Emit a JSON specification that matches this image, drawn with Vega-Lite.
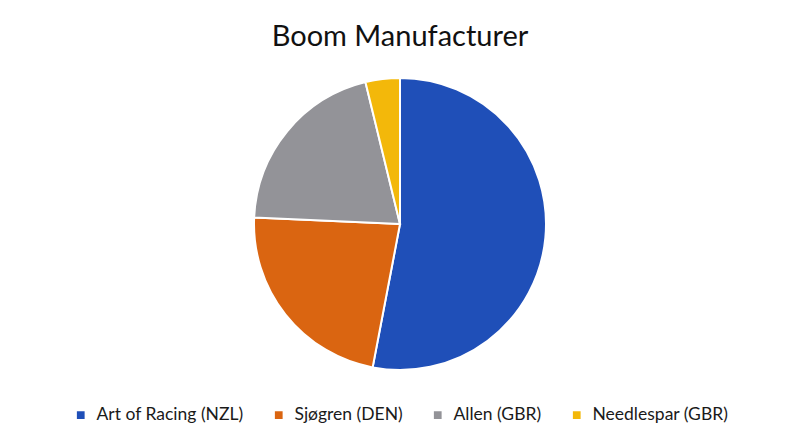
{
  "$schema": "https://vega.github.io/schema/vega-lite/v6.json",
  "autosize": {"type": "fit", "contains": "padding"},
  "width": 800,
  "height": 446,
  "padding": {"top": 23, "bottom": 22, "left": 5, "right": 5},
  "background": "white",
  "title": {"text": "Boom Manufacturer", "font": "Lato", "fontSize": 29, "fontWeight": "normal", "color": "#111111", "offset": 9},
  "data": {"values": [
    {"maker": "Art of Racing (NZL)", "share": 53.0, "rank": 1},
    {"maker": "Sjøgren (DEN)", "share": 22.7, "rank": 2},
    {"maker": "Allen (GBR)", "share": 20.5, "rank": 3},
    {"maker": "Needlespar (GBR)", "share": 3.8, "rank": 4}
  ]},
  "mark": {"type": "arc", "outerRadius": 146, "stroke": "white", "strokeWidth": 2},
  "encoding": {
    "theta": {"field": "share", "type": "quantitative", "stack": true},
    "order": {"field": "rank", "type": "quantitative"},
    "color": {
      "field": "maker", "type": "nominal",
      "scale": {"domain": ["Art of Racing (NZL)", "Sjøgren (DEN)", "Allen (GBR)", "Needlespar (GBR)"], "range": ["#1F4FB8", "#DA6511", "#939398", "#F3B80A"]},
      "legend": {"title": null, "orient": "bottom", "direction": "horizontal", "symbolType": "square", "symbolSize": 60, "symbolStrokeWidth": 0, "labelFont": "Lato", "labelFontSize": 17.5, "labelColor": "#1a1a1a", "labelOffset": 7, "columnPadding": 26, "offset": 19}
    }
  },
  "config": {
    "view": {"stroke": null},
    "legend": {"layout": {"bottom": {"anchor": "middle"}}}
  }
}
